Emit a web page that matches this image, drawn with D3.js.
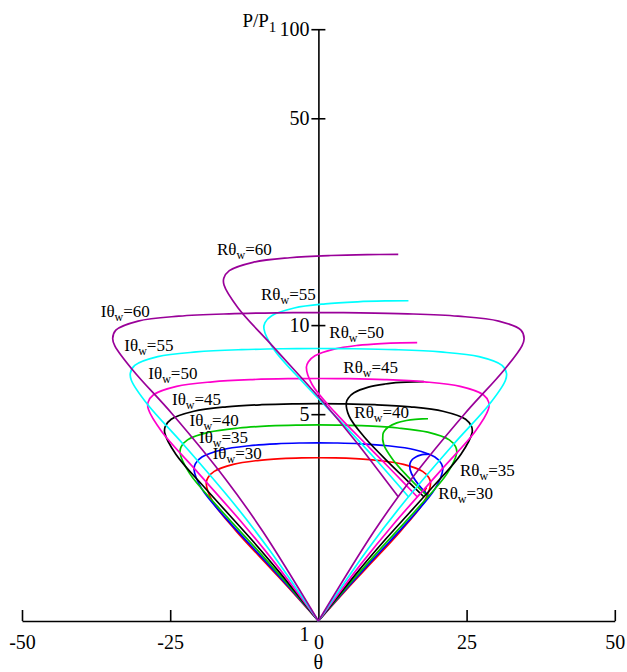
<!DOCTYPE html>
<html>
<head>
<meta charset="utf-8">
<script src="https://cdn.jsdelivr.net/npm/d3@7"></script>
<style>
body { margin: 0; background: #fff; }
text { font-family: "Liberation Serif", "Times New Roman", serif; }
</style>
</head>
<body>
<div id="chart"></div>
<script>
// wall angles, one colour each
var thetaW = [30, 35, 40, 45, 50, 55, 60];
var colors = ["#ff0000", "#0000ff", "#00c800", "#000000", "#ff00cc", "#00ffff", "#990099"];

// incident polars, right half as [theta, P/P1]; the left half is its mirror image
var incident30 = [[0,1],[4.42,1.256],[8.13,1.512],[13.97,2.025],[17.86,2.537],[18.92,2.922],[18.64,3.050],[17.57,3.203],[14.36,3.383],[10.28,3.485],[6.21,3.536],[2.83,3.557],[0,3.562]];
var incident35 = [[0,1],[4.95,1.300],[9.03,1.600],[15.40,2.200],[19.69,2.800],[20.98,3.251],[20.74,3.401],[19.65,3.581],[16.22,3.791],[11.69,3.911],[7.10,3.971],[3.24,3.995],[0,4.001]];
var incident40 = [[0,1],[5.59,1.360],[10.09,1.720],[17.03,2.440],[21.76,3.160],[23.33,3.700],[23.16,3.879],[22.08,4.095],[18.44,4.347],[13.42,4.491],[8.21,4.563],[3.76,4.592],[0,4.599]];
var incident45 = [[0,1],[6.34,1.443],[11.29,1.885],[18.82,2.771],[24.02,3.656],[25.92,4.320],[25.84,4.541],[24.83,4.807],[21.01,5.117],[15.48,5.294],[9.54,5.382],[4.38,5.418],[0,5.427]];
var incident50 = [[0,1],[7.21,1.560],[12.63,2.120],[20.73,3.241],[26.41,4.361],[28.69,5.201],[28.74,5.481],[27.82,5.817],[23.92,6.209],[17.87,6.433],[11.12,6.545],[5.14,6.590],[0,6.601]];
var incident55 = [[0,1],[8.22,1.733],[14.07,2.467],[22.69,3.934],[28.84,5.400],[31.54,6.500],[31.73,6.867],[30.98,7.307],[27.10,7.821],[20.59,8.114],[12.97,8.261],[6.03,8.319],[0,8.334]];
var incident60 = [[0,1],[9.34,2.002],[15.59,3.004],[24.65,5.008],[31.22,7.012],[34.34,8.515],[34.70,9.016],[34.17,9.617],[30.42,10.318],[23.56,10.719],[15.06,10.919],[7.05,11.000],[0,11.020]];

// reflected polars, from the kink on the incident polar round to the normal shock
var reflected30 = [[18.31,2.630],[18.01,2.722],[17.98,2.767],[18.15,2.804],[18.31,2.813]];
var reflected35 = [[18.70,2.630],[17.22,2.837],[16.10,3.044],[15.46,3.251],[15.45,3.407],[15.87,3.520],[16.51,3.593],[17.20,3.635],[17.81,3.655],[18.70,3.666]];
var reflected40 = [[18.49,2.630],[16.71,2.850],[15.13,3.069],[12.57,3.508],[11.02,3.948],[10.88,4.276],[11.13,4.387],[11.76,4.518],[13.23,4.673],[14.85,4.760],[16.33,4.804],[17.51,4.822],[18.49,4.826]];
var reflected45 = [[17.78,2.630],[14.77,3.011],[12.13,3.391],[7.89,4.153],[5.20,4.914],[4.72,5.485],[5.06,5.676],[6.01,5.904],[8.43,6.171],[11.23,6.323],[13.87,6.399],[16.00,6.429],[17.78,6.437]];
var reflected50 = [[16.66,2.630],[12.31,3.239],[8.64,3.849],[2.81,5.068],[-1.04,6.287],[-2.03,7.201],[-1.71,7.506],[-0.59,7.872],[2.64,8.298],[6.67,8.542],[10.64,8.663],[13.91,8.713],[16.66,8.725]];
var reflected55 = [[15.19,2.630],[9.35,3.575],[4.65,4.521],[-2.61,6.412],[-7.55,8.303],[-9.19,9.720],[-9.01,10.194],[-7.88,10.762],[-4.08,11.425],[1.17,11.801],[6.61,11.990],[11.26,12.066],[15.19,12.085]];
var reflected60 = [[13.47,2.630],[6.08,4.100],[0.54,5.570],[-7.76,8.511],[-13.58,11.451],[-15.92,13.656],[-15.96,14.391],[-15.03,15.273],[-11.03,16.302],[-4.83,16.890],[2.08,17.185],[8.21,17.302],[13.47,17.331]];

// where the curve names sit, [theta, P/P1] of the text start
var incidentLabelAt = [[-17.83,3.52],[-20.14,3.99],[-21.73,4.55],[-24.70,5.37],[-28.69,6.56],[-32.74,8.19],[-36.72,10.67]];
var reflectedLabelAt = [[20.23,2.58],[23.89,3.10],[6.06,4.84],[4.20,6.90],[1.84,9.03],[-9.68,12.16],[-17.11,17.26]];

// axis ticks
var thetaTicks = [-50, -25, 0, 25, 50];
var pTicks = [5, 10, 50, 100];

var incident = [incident30, incident35, incident40, incident45, incident50, incident55, incident60];
var reflected = [reflected30, reflected35, reflected40, reflected45, reflected50, reflected55, reflected60];

var width = 627, height = 672;

var svg = d3.select("#chart").append("svg")
    .attr("width", width)
    .attr("height", height);

var x = d3.scaleLinear().domain([-50, 50]).range([22, 614.8]);
var y = d3.scaleLog().domain([1, 100]).range([621, 29.2]);

var line = d3.line()
    .x(function(d){ return x(d[0]); })
    .y(function(d){ return y(d[1]); })
    .curve(d3.curveCatmullRom.alpha(0.5));

// axes (plain hyphen for negatives, as in the original)
var plain = function(d){ return String(d); };

var yAxis = svg.append("g")
    .attr("transform", "translate(" + x(0) + ",0)")
    .call(d3.axisLeft(y).tickValues(pTicks).tickFormat(plain).tickSize(7).tickPadding(2).tickSizeOuter(0));
yAxis.selectAll(".tick line").attr("x1", 7);

var xAxis = svg.append("g")
    .attr("transform", "translate(0," + y(1) + ")")
    .call(d3.axisBottom(x).tickValues(thetaTicks).tickFormat(plain).tickSizeInner(-11).tickSizeOuter(0).tickPadding(14));
xAxis.selectAll(".tick").filter(function(d){ return d === 0; }).select("line").remove();

svg.selectAll(".domain, .tick line").attr("stroke", "#000").attr("stroke-width", 1.6);
svg.selectAll(".tick text")
    .attr("font-family", "Liberation Serif, serif")
    .attr("font-size", 20)
    .attr("fill", "#000");

// P = 1 label under the origin
svg.append("text")
    .attr("x", x(0) - 9)
    .attr("y", y(1) + 20)
    .attr("text-anchor", "end")
    .attr("font-size", 20)
    .text("1");

// axis titles
svg.append("text")
    .attr("x", x(0))
    .attr("y", 669)
    .attr("text-anchor", "middle")
    .attr("font-size", 20)
    .text("θ");

var yTitle = svg.append("text")
    .attr("x", x(0) - 76)
    .attr("y", 27)
    .attr("font-size", 19);
yTitle.append("tspan").text("P/P");
yTitle.append("tspan").attr("font-size", 15).attr("dy", 5).text("1");

// polars
var curves = svg.append("g").attr("fill", "none").attr("stroke-width", 1.7);

thetaW.forEach(function(w, i){
    var half = incident[i];
    var mirror = half.map(function(d){ return [-d[0], d[1]]; });
    curves.append("path").attr("d", line(half)).attr("stroke", colors[i]);
    curves.append("path").attr("d", line(mirror)).attr("stroke", colors[i]);
    curves.append("path").attr("d", line(reflected[i])).attr("stroke", colors[i]);
});

// curve names with subscript w
var addLabel = function(prefix, w, at){
    var t = svg.append("text")
        .attr("x", x(at[0]))
        .attr("y", y(at[1]))
        .attr("font-size", 17);
    t.append("tspan").text(prefix + "θ");
    t.append("tspan").attr("font-size", 12).attr("dy", 4).text("w");
    t.append("tspan").attr("dy", -4).text("=" + w);
};

thetaW.forEach(function(w, i){
    addLabel("I", w, incidentLabelAt[i]);
    addLabel("R", w, reflectedLabelAt[i]);
});
</script>
</body>
</html>
